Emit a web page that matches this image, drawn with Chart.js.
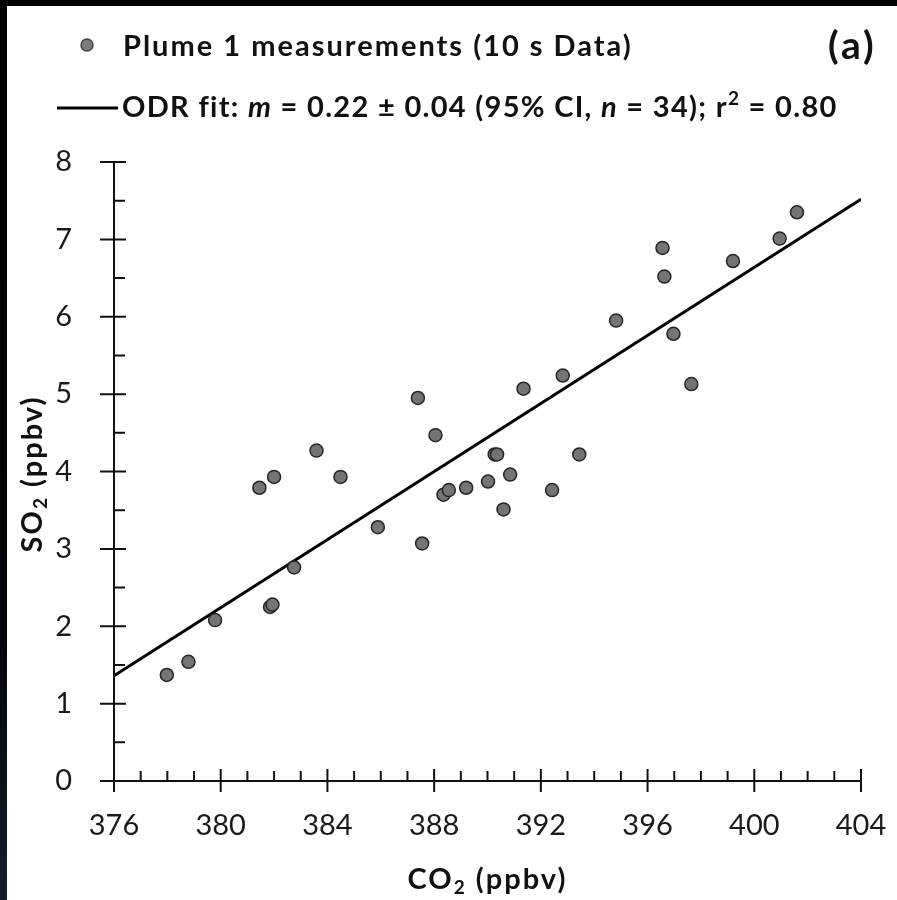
<!DOCTYPE html>
<html>
<head>
<meta charset="utf-8">
<script src="https://cdn.jsdelivr.net/npm/chart.js@4.4.0/dist/chart.umd.min.js"></script>
<style>
  html, body { margin: 0; padding: 0; background: #000; overflow: hidden; }
  canvas { display: block; }
</style>
</head>
<body>
<canvas id="so2Chart" width="897" height="900"></canvas>
<script>
// Pluma 1: pares CO2 / SO2 (datos de 10 s, ppbv)
const co2 = [377.98, 378.79, 379.79, 381.45, 381.85, 381.94, 382.00, 382.75, 383.59, 384.49,
             385.89, 387.39, 387.55, 388.05, 388.35, 388.55, 389.20, 390.02, 390.27, 390.36,
             390.60, 390.85, 391.35, 392.42, 392.82, 393.44, 394.82, 396.56, 396.63, 396.97,
             397.64, 399.20, 400.95, 401.60];
const so2 = [1.37, 1.54, 2.08, 3.79, 2.25, 2.28, 3.93, 2.76, 4.27, 3.93,
             3.28, 4.95, 3.07, 4.47, 3.70, 3.76, 3.79, 3.87, 4.22, 4.22,
             3.51, 3.96, 5.07, 3.76, 5.24, 4.22, 5.95, 6.89, 6.52, 5.78,
             5.13, 6.72, 7.01, 7.35];

// Marcas de los ejes
const xTicks = [376, 380, 384, 388, 392, 396, 400, 404];
const yTicks = [0, 1, 2, 3, 4, 5, 6, 7, 8];

// Ajuste ODR: pendiente m y punto central de la recta
const fitSlope = 0.22;
const fitCentre = [390, 4.44];

const puntos = co2.map((v, i) => ({ x: v, y: so2[i] }));
const recta = [xTicks[0], xTicks[xTicks.length - 1]].map(v => ({
  x: v,
  y: fitCentre[1] + fitSlope * (v - fitCentre[0])
}));

const FUENTE = 'Lato, "DejaVu Sans", sans-serif';

// Fondo blanco con el borde oscuro
const fondoPlugin = {
  id: 'fondo',
  beforeDraw(chart) {
    const c = chart.ctx;
    c.save();
    c.fillStyle = '#000';
    c.fillRect(0, 0, chart.width, chart.height);
    const g = c.createLinearGradient(0, 0, 0, chart.height);
    g.addColorStop(0, '#000');
    g.addColorStop(0.7, '#03050a');
    g.addColorStop(1, '#141c2c');
    c.fillStyle = g;
    c.fillRect(0, 0, 7, chart.height);
    c.fillStyle = '#fff';
    c.fillRect(7, 6, chart.width - 7, chart.height - 6);
    c.restore();
  }
};

// Ejes con marcas mayores que cruzan el eje y marcas menores hacia dentro
const ejesPlugin = {
  id: 'ejes',
  afterDraw(chart) {
    const { ctx: c, scales: { x, y } } = chart;
    const x0 = x.getPixelForValue(xTicks[0]);
    const x1 = x.getPixelForValue(xTicks[xTicks.length - 1]);
    const y0 = y.getPixelForValue(yTicks[0]);
    const y1 = y.getPixelForValue(yTicks[yTicks.length - 1]);
    c.save();
    c.strokeStyle = '#111';
    c.lineWidth = 2;
    c.beginPath();
    c.moveTo(x0, y1); c.lineTo(x0, y0 + 11);
    c.moveTo(x0 - 14, y0); c.lineTo(x1, y0);
    yTicks.forEach(v => {
      const p = y.getPixelForValue(v);
      c.moveTo(x0 - 14, p); c.lineTo(x0 + 12, p);
    });
    for (let v = yTicks[0] + 0.5; v < yTicks[yTicks.length - 1]; v += 1) {
      const p = y.getPixelForValue(v);
      c.moveTo(x0, p); c.lineTo(x0 + 11, p);
    }
    xTicks.forEach(v => {
      const p = x.getPixelForValue(v);
      c.moveTo(p, y0 - 12); c.lineTo(p, y0 + 11);
    });
    for (let v = xTicks[0] + 1; v < xTicks[xTicks.length - 1]; v += 1) {
      if (xTicks.includes(v)) continue;
      const p = x.getPixelForValue(v);
      c.moveTo(p, y0 - 10); c.lineTo(p, y0);
    }
    c.stroke();
    c.restore();
  }
};

// Texto con tramos de distinto estilo (cursiva, subíndice, superíndice)
function anchoTramos(c, tramos, esp) {
  c.letterSpacing = esp + 'px';
  return tramos.reduce((w, t) => { c.font = t.f; return w + c.measureText(t.s).width; }, 0);
}
function escribirTramos(c, x, base, tramos, esp) {
  c.letterSpacing = esp + 'px';
  tramos.forEach(t => {
    c.font = t.f;
    c.fillText(t.s, x, base + (t.dy || 0));
    x += c.measureText(t.s).width;
  });
  c.letterSpacing = '0px';
}

const textosPlugin = {
  id: 'textos',
  afterDraw(chart) {
    const c = chart.ctx;
    const { x } = chart.scales;
    c.save();
    c.fillStyle = '#111';
    c.textBaseline = 'alphabetic';
    c.textAlign = 'left';

    // leyenda, primera línea
    c.beginPath();
    c.arc(87, 45, 6, 0, Math.PI * 2);
    c.fillStyle = '#7a7a7a';
    c.fill();
    c.lineWidth = 1.5;
    c.strokeStyle = '#444';
    c.stroke();
    c.fillStyle = '#111';
    escribirTramos(c, 123, 56, [{ s: 'Plume 1 measurements (10 s Data)', f: `bold 29px ${FUENTE}` }], 2.0);

    // leyenda, segunda línea
    c.beginPath();
    c.moveTo(57, 108); c.lineTo(118, 108);
    c.lineWidth = 3;
    c.strokeStyle = '#000';
    c.stroke();
    const b = `bold 29px ${FUENTE}`;
    const bi = `italic bold 29px ${FUENTE}`;
    escribirTramos(c, 122, 117, [
      { s: 'ODR fit: ', f: b },
      { s: 'm', f: bi },
      { s: ' = 0.22 \u00b1 0.04 (95% CI, ', f: b },
      { s: 'n', f: bi },
      { s: ' = 34); r', f: b },
      { s: '2', f: `bold 19px ${FUENTE}`, dy: -12 },
      { s: ' = 0.80', f: b }
    ], 1.3);

    // etiqueta del panel
    escribirTramos(c, 828, 59, [{ s: '(a)', f: `bold 39px ${FUENTE}` }], 3);

    // título del eje X
    const tx = [
      { s: 'CO', f: `bold 29px ${FUENTE}` },
      { s: '2', f: `bold 19px ${FUENTE}`, dy: 5 },
      { s: ' (ppbv)', f: `bold 29px ${FUENTE}` }
    ];
    const cx = (x.left + x.right) / 2;
    escribirTramos(c, cx - anchoTramos(c, tx, 2) / 2, 889, tx, 2);

    // título del eje Y
    const ty = [
      { s: 'SO', f: `bold 29px ${FUENTE}` },
      { s: '2', f: `bold 19px ${FUENTE}`, dy: 5 },
      { s: ' (ppbv)', f: `bold 29px ${FUENTE}` }
    ];
    c.translate(42, 474);
    c.rotate(-Math.PI / 2);
    escribirTramos(c, -anchoTramos(c, ty, 2) / 2, 0, ty, 2);
    c.restore();
  }
};

new Chart(document.getElementById('so2Chart'), {
  type: 'scatter',
  data: {
    datasets: [
      {
        label: 'Plume 1 measurements (10 s Data)',
        data: puntos,
        pointRadius: 6.5,
        pointHoverRadius: 6.5,
        pointBackgroundColor: '#747474',
        pointBorderColor: '#252525',
        pointBorderWidth: 1.5
      },
      {
        type: 'line',
        label: 'ODR fit',
        data: recta,
        borderColor: '#000',
        borderWidth: 3,
        pointRadius: 0,
        fill: false
      }
    ]
  },
  options: {
    responsive: false,
    animation: false,
    events: [],
    layout: { padding: { left: 0, top: 162, right: 36, bottom: 0 } },
    plugins: { legend: { display: false }, tooltip: { enabled: false } },
    scales: {
      x: {
        type: 'linear',
        min: xTicks[0],
        max: xTicks[xTicks.length - 1],
        afterBuildTicks: s => { s.ticks = xTicks.map(v => ({ value: v })); },
        afterFit: s => { s.height = 119; s.paddingLeft = 0; s.paddingRight = 0; },
        grid: { display: false },
        border: { display: false },
        ticks: { font: { family: FUENTE, size: 29 }, color: '#1a1a1a', padding: 19, maxRotation: 0 }
      },
      y: {
        type: 'linear',
        min: yTicks[0],
        max: yTicks[yTicks.length - 1],
        afterBuildTicks: s => { s.ticks = yTicks.map(v => ({ value: v })); },
        afterFit: s => { s.width = 114; s.paddingTop = 0; s.paddingBottom = 0; },
        grid: { display: false },
        border: { display: false },
        ticks: { font: { family: FUENTE, size: 29 }, color: '#1a1a1a', padding: 34 }
      }
    }
  },
  plugins: [fondoPlugin, ejesPlugin, textosPlugin]
});
</script>
</body>
</html>
